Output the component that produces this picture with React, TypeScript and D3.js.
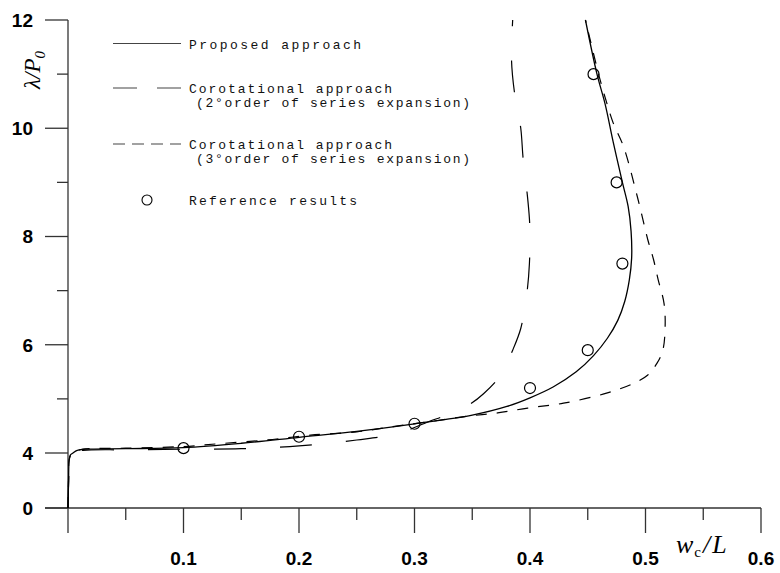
import React from "react";
import * as d3 from "d3";

// load-deflection curves
const proposedX = [0, 0.0005, 0.001, 0.002, 0.004, 0.008, 0.015, 0.05, 0.1, 0.15, 0.2, 0.25, 0.3, 0.35, 0.38, 0.4, 0.42, 0.44, 0.455, 0.467, 0.476, 0.482, 0.486, 0.488, 0.4875, 0.485, 0.48, 0.472, 0.465, 0.458, 0.448];
const proposedY = [0, 2, 3.5, 3.85, 3.98, 4.05, 4.07, 4.08, 4.1, 4.18, 4.29, 4.4, 4.54, 4.7, 4.86, 5.02, 5.22, 5.5, 5.8, 6.12, 6.45, 6.8, 7.2, 7.6, 8.1, 8.55, 9.0, 9.75, 10.45, 11.0, 12];

const corot2X = [0, 0.0005, 0.001, 0.003, 0.006, 0.013, 0.05, 0.1, 0.15, 0.2, 0.25, 0.286, 0.31, 0.33, 0.345, 0.36, 0.375, 0.385, 0.392, 0.397, 0.3995, 0.3998, 0.398, 0.394, 0.392, 0.3865, 0.384, 0.385];
const corot2Y = [0, 2, 3.5, 3.95, 4.02, 4.05, 4.06, 4.07, 4.08, 4.13, 4.24, 4.36, 4.56, 4.72, 4.86, 5.1, 5.45, 5.9, 6.3, 6.9, 7.5, 8.2, 8.7, 9.45, 10.0, 10.67, 11.26, 12];

const corot3X = [0, 0.0005, 0.001, 0.003, 0.006, 0.013, 0.05, 0.1, 0.13, 0.172, 0.21, 0.25, 0.273, 0.292, 0.32, 0.346, 0.372, 0.398, 0.429, 0.467, 0.49, 0.502, 0.51, 0.515, 0.517, 0.516, 0.511, 0.507, 0.502, 0.493, 0.481, 0.472, 0.466, 0.46, 0.448];
const corot3Y = [0, 2, 3.5, 3.95, 4.03, 4.07, 4.09, 4.12, 4.17, 4.24, 4.33, 4.39, 4.46, 4.52, 4.6, 4.68, 4.74, 4.83, 4.92, 5.11, 5.29, 5.44, 5.66, 5.9, 6.33, 6.77, 7.2, 7.57, 7.94, 8.73, 9.66, 10.1, 10.5, 10.95, 12];

const refX = [0.1, 0.2, 0.3, 0.4, 0.45, 0.48, 0.475, 0.455];
const refY = [4.09, 4.3, 4.54, 5.2, 5.9, 7.5, 9.0, 11.0];

const xMajor = [0.1, 0.2, 0.3, 0.4, 0.5, 0.6];
const xMinor = [0.05, 0.15, 0.25, 0.35, 0.45, 0.55];
const yMajor = [0, 4, 6, 8, 10, 12];
const yMinor = [5, 7, 9, 11];

const legendLabels = [
  ["Proposed approach"],
  ["Corotational approach", "(2°order of series expansion)"],
  ["Corotational approach", "(3°order of series expansion)"],
  ["Reference results"],
];

const W = 780;
const H = 573;

export default function App() {
  const x = d3.scaleLinear().domain([0, 0.6]).range([68, 761]);
  // broken axis: 0..4 squeezed
  const y = d3.scaleLinear().domain([0, 4, 12]).range([508, 453, 20]);

  const line = d3
    .line<[number, number]>()
    .x((d) => x(d[0]))
    .y((d) => y(d[1]))
    .curve(d3.curveCatmullRom.alpha(0.5));

  const zip = (a: number[], b: number[]) => a.map((v, i) => [v, b[i]] as [number, number]);

  const axisColor = "#333";
  const tickFont = { fontFamily: "Liberation Sans, Arial, sans-serif", fontWeight: 700, fontSize: 19 };
  const legendFont = { fontFamily: "Liberation Mono, monospace", fontSize: 13, fill: "#111" };

  const y0 = y(0);

  return (
    <svg width={W} height={H} style={{ position: "absolute", left: 0, top: 0, background: "#fff" }}>
      {/* axes */}
      <line x1={45} x2={x(0.6)} y1={y0} y2={y0} stroke={axisColor} strokeWidth={1.3} />
      <line x1={x(0)} x2={x(0)} y1={y(12)} y2={533} stroke={axisColor} strokeWidth={1.3} />
      {xMajor.map((t) => (
        <g key={"xM" + t}>
          <line x1={x(t)} x2={x(t)} y1={y0} y2={533} stroke={axisColor} strokeWidth={1.3} />
          <text x={x(t)} y={565} textAnchor="middle" {...tickFont}>{t.toFixed(1)}</text>
        </g>
      ))}
      {xMinor.map((t) => (
        <line key={"xm" + t} x1={x(t)} x2={x(t)} y1={y0} y2={520} stroke={axisColor} strokeWidth={1.3} />
      ))}
      {yMajor.map((t) => (
        <g key={"yM" + t}>
          <line x1={45} x2={x(0)} y1={y(t)} y2={y(t)} stroke={axisColor} strokeWidth={1.3} />
          <text x={33} y={y(t)} dy="0.36em" textAnchor="end" {...tickFont}>{t}</text>
        </g>
      ))}
      {yMinor.map((t) => (
        <line key={"ym" + t} x1={57} x2={x(0)} y1={y(t)} y2={y(t)} stroke={axisColor} strokeWidth={1.3} />
      ))}

      {/* axis titles */}
      <text transform="translate(40,70) rotate(-90)" textAnchor="middle" fontFamily="Liberation Serif, serif" fontStyle="italic" fontSize={23}>
        λ/P<tspan fontSize={15} dy={5}>0</tspan>
      </text>
      <text x={676} y={553} fontFamily="Liberation Serif, serif" fontStyle="italic" fontSize={26}>
        w<tspan fontSize={15} fontStyle="normal" dx={1} dy={4}>c</tspan>
        <tspan dx={2} dy={-4}>/</tspan>
        <tspan dx={2}>L</tspan>
      </text>

      {/* curves */}
      <path d={line(zip(corot2X, corot2Y)) || ""} fill="none" stroke="#000" strokeWidth={1.2} strokeDasharray="32 34" />
      <path d={line(zip(corot3X, corot3Y)) || ""} fill="none" stroke="#000" strokeWidth={1.2} strokeDasharray="11 10" />
      <path d={line(zip(proposedX, proposedY)) || ""} fill="none" stroke="#000" strokeWidth={1.3} />
      {refX.map((v, i) => (
        <circle key={"r" + i} cx={x(v)} cy={y(refY[i])} r={5.5} fill="none" stroke="#000" strokeWidth={1.2} />
      ))}

      {/* legend */}
      <line x1={113} x2={181} y1={43.5} y2={43.5} stroke="#444" strokeWidth={1.2} />
      <line x1={113} x2={181} y1={88} y2={88} stroke="#444" strokeWidth={1.2} strokeDasharray="24 20" />
      <line x1={113} x2={181} y1={144} y2={144} stroke="#444" strokeWidth={1.2} strokeDasharray="12 7" />
      <circle cx={147} cy={200} r={5} fill="none" stroke="#000" strokeWidth={1.1} />

      <text x={189} y={49} textLength={172} lengthAdjust="spacing" {...legendFont}>{legendLabels[0][0]}</text>
      <text x={189} y={93} textLength={203} lengthAdjust="spacing" {...legendFont}>{legendLabels[1][0]}</text>
      <text x={196} y={107} textLength={274} lengthAdjust="spacing" {...legendFont}>{legendLabels[1][1]}</text>
      <text x={189} y={149} textLength={203} lengthAdjust="spacing" {...legendFont}>{legendLabels[2][0]}</text>
      <text x={196} y={163} textLength={274} lengthAdjust="spacing" {...legendFont}>{legendLabels[2][1]}</text>
      <text x={189} y={205} textLength={168} lengthAdjust="spacing" {...legendFont}>{legendLabels[3][0]}</text>
    </svg>
  );
}
